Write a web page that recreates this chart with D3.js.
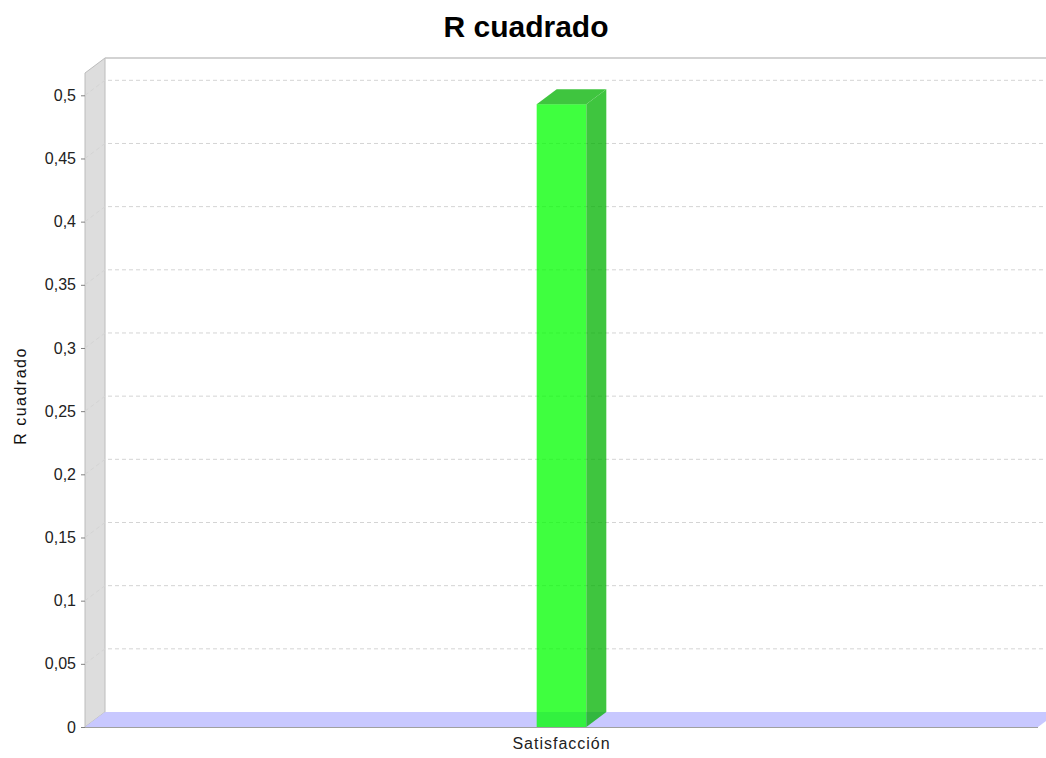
<!DOCTYPE html>
<html>
<head>
<meta charset="utf-8">
<script src="https://cdn.jsdelivr.net/npm/d3@7"></script>
<style>
    body { margin: 0; background: #fff; }
    svg { display: block; font-family: "Liberation Sans", Arial, sans-serif; }
</style>
</head>
<body>
<svg id="chart" width="1046" height="758"></svg>
<script>
// chart.js - 3D bar chart, R cuadrado

const categories = ["Satisfacción"];
const rSquared = [0.493];
const yTicks = [0, 0.05, 0.1, 0.15, 0.2, 0.25, 0.3, 0.35, 0.4, 0.45, 0.5];
const chartTitle = "R cuadrado";
const yAxisTitle = "R cuadrado";

const W = 1046, H = 758;
const front = { left: 85, right: 1038, top: 73, bottom: 727 };
const dx = 20, dy = 15; // depth offset of the back plane

const svg = d3.select("#chart");

const y = d3.scaleLinear()
    .domain([0, d3.max(rSquared) * 1.05])
    .range([front.bottom, front.top]);

const x = d3.scaleBand()
    .domain(categories)
    .range([front.left, front.right])
    .paddingOuter(9.1);

const fmt = d => String(d).replace(".", ",");
const pts = arr => arr.map(p => p.join(",")).join(" ");

// left wall
svg.append("polygon")
    .attr("points", pts([[front.left, front.bottom], [front.left, front.top], [front.left + dx, front.top - dy], [front.left + dx, front.bottom - dy]]))
    .attr("fill", "#dddddd").attr("stroke", "#bcbcbc").attr("stroke-width", 1);

// top edge of the back plane
svg.append("line")
    .attr("x1", front.left + dx).attr("x2", W)
    .attr("y1", front.top - dy).attr("y2", front.top - dy)
    .attr("stroke", "#c4c4c4").attr("stroke-width", 1.5);

// gridlines, on the wall and across the back
const grid = svg.append("g").attr("stroke", "#d4d4d4").attr("stroke-width", 1).attr("stroke-dasharray", "4,3").attr("fill", "none");
yTicks.filter(t => t > 0).forEach(t => {
    grid.append("polyline")
        .attr("points", pts([[front.left, y(t)], [front.left + dx, y(t) - dy], [W, y(t) - dy]]));
});

// floor
svg.append("polygon")
    .attr("points", pts([[front.left, front.bottom], [front.left + dx, front.bottom - dy], [front.right + dx, front.bottom - dy], [front.right, front.bottom]]))
    .attr("fill", "#c8c8ff");

// category axis line
svg.append("line")
    .attr("x1", front.left - 4).attr("x2", front.right)
    .attr("y1", front.bottom + 0.5).attr("y2", front.bottom + 0.5)
    .attr("stroke", "#a0a0a0").attr("stroke-width", 1);

// bars
const bars = svg.append("g").attr("opacity", 0.75);
categories.forEach((c, i) => {
    const x0 = x(c), x1 = x(c) + x.bandwidth();
    const top = y(rSquared[i]), base = y(0);
    bars.append("rect")
        .attr("x", x0).attr("y", top)
        .attr("width", x1 - x0).attr("height", base - top)
        .attr("fill", "#00ff00");
    bars.append("polygon")
        .attr("points", pts([[x1, top], [x1 + dx, top - dy], [x1 + dx, base - dy], [x1, base]]))
        .attr("fill", "#00b200");
    bars.append("polygon")
        .attr("points", pts([[x0, top], [x0 + dx, top - dy], [x1 + dx, top - dy], [x1, top]]))
        .attr("fill", "#00b200");
});

// y axis ticks and labels
const yAxis = d3.axisLeft(y).tickValues(yTicks).tickFormat(fmt).tickSize(4).tickPadding(5);
const gy = svg.append("g").attr("transform", `translate(${front.left},0)`).call(yAxis);
gy.select(".domain").remove();
gy.selectAll(".tick line").attr("stroke", "#808080");
gy.selectAll(".tick text").attr("font-size", 16).attr("fill", "#222").attr("font-family", "Liberation Sans, Arial, sans-serif");

// category labels
const xAxis = d3.axisBottom(x).tickSize(0).tickPadding(11);
const gx = svg.append("g").attr("transform", `translate(0,${front.bottom})`).call(xAxis);
gx.select(".domain").remove();
gx.selectAll(".tick text").attr("font-size", 16).attr("letter-spacing", 1).attr("fill", "#222").attr("font-family", "Liberation Sans, Arial, sans-serif");

// titles
svg.append("text")
    .attr("x", 526).attr("y", 37)
    .attr("text-anchor", "middle")
    .attr("font-size", 30).attr("font-weight", "bold")
    .text(chartTitle);

svg.append("text")
    .attr("transform", `translate(26,396) rotate(-90)`)
    .attr("text-anchor", "middle")
    .attr("font-size", 16).attr("letter-spacing", 1.5).attr("fill", "#111")
    .text(yAxisTitle);
</script>
</body>
</html>
